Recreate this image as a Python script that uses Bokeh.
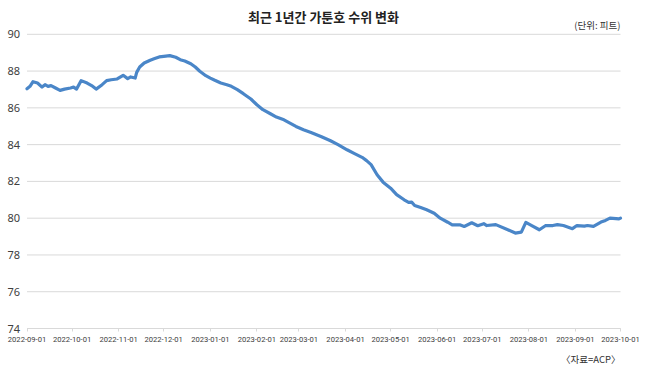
from datetime import timedelta
import pandas as pd
from bokeh.plotting import figure
from bokeh.models import Range1d, FixedTicker, DatetimeTickFormatter, Label
from bokeh.embed import file_html
from bokeh.resources import INLINE

title_text = "최근 1년간 가툰호 수위 변화"
unit_text = "(단위: 피트)"
source_text = "〈자료=ACP〉"

dates = [
    "2022-09-01", "2022-09-03", "2022-09-05", "2022-09-08", "2022-09-11", "2022-09-13",
    "2022-09-15", "2022-09-17", "2022-09-20", "2022-09-23", "2022-09-26", "2022-09-30",
    "2022-10-02", "2022-10-04", "2022-10-07", "2022-10-11", "2022-10-14", "2022-10-17",
    "2022-10-21", "2022-10-24", "2022-10-27", "2022-10-31", "2022-11-04", "2022-11-07",
    "2022-11-09", "2022-11-12", "2022-11-13", "2022-11-15", "2022-11-18", "2022-11-22",
    "2022-11-25", "2022-11-28", "2022-12-01", "2022-12-05", "2022-12-09", "2022-12-12",
    "2022-12-15", "2022-12-19", "2022-12-22", "2022-12-25", "2022-12-29", "2023-01-01",
    "2023-01-04", "2023-01-08", "2023-01-12", "2023-01-15", "2023-01-19", "2023-01-23",
    "2023-01-28", "2023-02-01", "2023-02-05", "2023-02-10", "2023-02-14", "2023-02-19",
    "2023-02-23", "2023-02-27", "2023-03-04", "2023-03-09", "2023-03-16", "2023-03-22",
    "2023-03-27", "2023-04-02", "2023-04-07", "2023-04-12", "2023-04-15", "2023-04-18",
    "2023-04-22", "2023-04-26", "2023-05-01", "2023-05-05", "2023-05-10", "2023-05-13",
    "2023-05-15", "2023-05-17", "2023-05-21", "2023-05-25", "2023-05-30", "2023-06-03",
    "2023-06-08", "2023-06-11", "2023-06-16", "2023-06-19", "2023-06-24", "2023-06-28",
    "2023-07-02", "2023-07-04", "2023-07-10", "2023-07-18", "2023-07-23", "2023-07-27",
    "2023-07-30", "2023-08-02", "2023-08-08", "2023-08-12", "2023-08-17", "2023-08-20",
    "2023-08-24", "2023-08-30", "2023-09-02", "2023-09-07", "2023-09-09", "2023-09-13",
    "2023-09-18", "2023-09-21", "2023-09-24", "2023-09-30", "2023-10-01",
]

levels = [
    87.04, 87.17, 87.42, 87.35, 87.13, 87.26,
    87.17, 87.21, 87.08, 86.95, 87.02, 87.08,
    87.13, 87.02, 87.48, 87.35, 87.21, 87.02,
    87.26, 87.48, 87.53, 87.57, 87.77, 87.59,
    87.68, 87.62, 87.93, 88.22, 88.44, 88.59,
    88.68, 88.77, 88.80, 88.84, 88.75, 88.62,
    88.55, 88.40, 88.22, 87.99, 87.75, 87.62,
    87.50, 87.35, 87.26, 87.17, 86.99, 86.77,
    86.48, 86.17, 85.90, 85.68, 85.50, 85.35,
    85.17, 84.99, 84.81, 84.66, 84.43, 84.21,
    84.00, 83.72, 83.51, 83.31, 83.13, 82.91,
    82.36, 81.96, 81.63, 81.28, 81.00, 80.86,
    80.87, 80.69, 80.58, 80.46, 80.27, 80.00,
    79.78, 79.64, 79.64, 79.55, 79.75, 79.59,
    79.70, 79.60, 79.65, 79.37, 79.19, 79.24,
    79.77, 79.64, 79.37, 79.59, 79.60, 79.65,
    79.60, 79.43, 79.60, 79.57, 79.60, 79.55,
    79.79, 79.88, 80.00, 79.96, 80.00,
]

x_tick_labels = [
    "2022-09-01", "2022-10-01", "2022-11-01", "2022-12-01", "2023-01-01", "2023-02-01",
    "2023-03-01", "2023-04-01", "2023-05-01", "2023-06-01", "2023-07-01", "2023-08-01",
    "2023-09-01", "2023-10-01",
]
y_ticks = [74, 76, 78, 80, 82, 84, 86, 88, 90]

# ---- layout (pixels) ----
W, H = 650, 382
plot_left, plot_right = 26.5, 620.0     # x pixels of first / last tick
plot_top, plot_bottom = 33.8, 328.0     # y pixels of max / min tick

x = pd.to_datetime(dates)
tick_dt = pd.to_datetime(x_tick_labels)
tick_ms = [int(t.value // 10**6) for t in tick_dt]

span_days = (tick_dt[-1] - tick_dt[0]).days
px_per_day = (plot_right - plot_left) / span_days
x_start = tick_dt[0] - timedelta(days=plot_left / px_per_day)
x_end = tick_dt[-1] + timedelta(days=(W - plot_right) / px_per_day)

y_lo, y_hi = y_ticks[0], y_ticks[-1]
px_per_unit = (plot_bottom - plot_top) / (y_hi - y_lo)
y_top = y_hi + plot_top / px_per_unit
y_bot = y_lo - (H - plot_bottom) / px_per_unit

p = figure(width=W, height=H, x_axis_type="datetime", output_backend="svg",
           toolbar_location=None,
           x_range=Range1d(x_start, x_end), y_range=Range1d(y_bot, y_top),
           min_border=0, min_border_left=0, min_border_right=0,
           min_border_top=0, min_border_bottom=0)
p.title.visible = False
p.outline_line_color = None
p.background_fill_color = "white"
p.border_fill_color = "white"
p.xgrid.visible = False
p.ygrid.visible = False

# horizontal gridlines, limited to the data span
n = len(y_ticks)
p.segment(x0=[tick_dt[0]] * n, x1=[tick_dt[-1]] * n, y0=y_ticks, y1=y_ticks,
          line_color="#d9d9d9", line_width=1)

p.line(x, levels, line_width=3.2, line_color="#4a86c8", line_join="round", line_cap="round")

# y axis (drawn at the first date)
p.yaxis.fixed_location = tick_ms[0]
p.yaxis.ticker = FixedTicker(ticks=y_ticks)
p.yaxis.axis_line_color = None
p.yaxis.major_tick_line_color = None
p.yaxis.minor_tick_line_color = None
p.yaxis.major_tick_out = 0
p.yaxis.major_tick_in = 0
p.yaxis.major_label_standoff = 7
p.yaxis.major_label_text_font = "Noto Sans"
p.yaxis.major_label_text_font_size = "11px"
p.yaxis.major_label_text_color = "#404040"

# x axis (drawn at the lowest tick)
p.xaxis.fixed_location = y_lo
p.xaxis.bounds = (tick_ms[0], tick_ms[-1])
p.xaxis.ticker = FixedTicker(ticks=tick_ms)
fmt = "%Y-%m-%d"
p.xaxis.formatter = DatetimeTickFormatter(
    microseconds=fmt, milliseconds=fmt, seconds=fmt, minsec=fmt, minutes=fmt,
    hourmin=fmt, hours=fmt, days=fmt, months=fmt, years=fmt)
p.xaxis.axis_line_color = "#d9d9d9"
p.xaxis.major_tick_line_color = "#d9d9d9"
p.xaxis.minor_tick_line_color = None
p.xaxis.major_tick_out = 3
p.xaxis.major_tick_in = 0
p.xaxis.major_label_standoff = 5
p.xaxis.major_label_text_font = "Roboto"
p.xaxis.major_label_text_font_size = "7.6px"
p.xaxis.major_label_text_color = "#404040"

# texts
p.add_layout(Label(x=323, y=H - 16, x_units="screen", y_units="screen", text=title_text,
                   text_align="center", text_baseline="middle",
                   text_font="Noto Sans CJK KR", text_font_style="bold",
                   text_font_size="13px", text_color="#222222"))
p.add_layout(Label(x=620, y=H - 24, x_units="screen", y_units="screen", text=unit_text,
                   text_align="right", text_baseline="middle",
                   text_font="Noto Sans CJK KR", text_font_size="9.5px", text_color="#333333"))
p.add_layout(Label(x=620, y=H - 358, x_units="screen", y_units="screen", text=source_text,
                   text_align="right", text_baseline="middle",
                   text_font="Noto Sans CJK KR", text_font_size="9.5px", text_color="#333333"))

open("out.html", "w").write(file_html(p, INLINE))
